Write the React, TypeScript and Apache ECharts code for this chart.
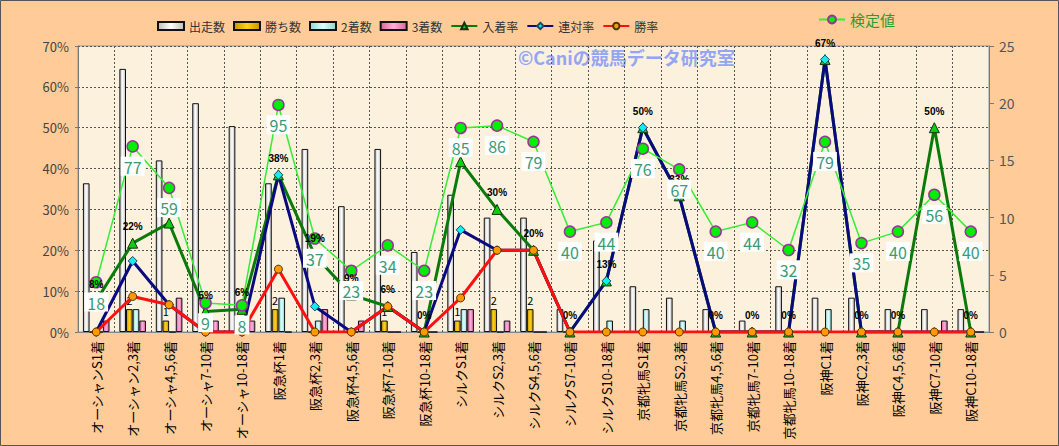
import React, { useEffect, useRef } from "react";
import * as echarts from "echarts";

const categories = [
  "オーシャンS1着", "オーシャン2,3着", "オーシャ4,5,6着", "オーシャ7-10着", "オーシャ10-18着",
  "阪急杯1着", "阪急杯2,3着", "阪急杯4,5,6着", "阪急杯7-10着", "阪急杯10-18着",
  "シルクS1着", "シルクS2,3着", "シルクS4,5,6着", "シルクS7-10着", "シルクS10-18着",
  "京都牝馬S1着", "京都牝馬S2,3着", "京都牝馬4,5,6着", "京都牝馬7-10着", "京都牝馬10-18着",
  "阪神C1着", "阪神C2,3着", "阪神C4,5,6着", "阪神C7-10着", "阪神C10-18着",
];
const starts = [13, 23, 15, 20, 18, 13, 16, 11, 16, 7, 12, 10, 10, 2, 8, 4, 3, 2, 1, 4, 3, 3, 2, 2, 2];
const wins = [0, 2, 1, 0, 0, 2, 0, 0, 1, 0, 1, 2, 2, 0, 0, 0, 0, 0, 0, 0, 0, 0, 0, 0, 0];
const seconds = [0, 2, 0, 0, 0, 3, 1, 0, 0, 0, 2, 0, 0, 0, 1, 2, 1, 0, 0, 0, 2, 0, 0, 0, 0];
const thirds = [1, 1, 3, 1, 1, 0, 2, 1, 0, 0, 2, 1, 0, 0, 0, 0, 0, 0, 0, 0, 0, 0, 0, 1, 0];
const placeRate = [7.69, 21.74, 26.67, 5.0, 5.56, 38.46, 18.75, 9.09, 6.25, 0, 41.67, 30.0, 20.0, 0, 12.5, 50.0, 33.33, 0, 0, 0, 66.67, 0, 0, 50.0, 0];
const rentaiRate = [0, 17.39, 6.67, 0, 0, 38.46, 6.25, 0, 6.25, 0, 25.0, 20.0, 20.0, 0, 12.5, 50.0, 33.33, 0, 0, 0, 66.67, 0, 0, 0, 0];
const winRate = [0, 8.7, 6.67, 0, 0, 15.38, 0, 0, 6.25, 0, 8.33, 20.0, 20.0, 0, 0, 0, 0, 0, 0, 0, 0, 0, 0, 0, 0];
const kentei = [18, 77, 59, 9, 8, 95, 37, 23, 34, 23, 85, 86, 79, 40, 44, 76, 67, 40, 44, 32, 79, 35, 40, 56, 40];
const leftTicks = { min: 0, max: 70, interval: 10 };
const rightTicks = { min: 0, max: 25, interval: 5 };

const grad = (edge: string, mid: string) =>
  new echarts.graphic.LinearGradient(0, 0, 1, 0, [
    { offset: 0, color: edge },
    { offset: 0.5, color: mid },
    { offset: 1, color: edge },
  ]);

export default function App() {
  const ref = useRef<HTMLDivElement>(null);
  useEffect(() => {
    if (!ref.current) return;
    const chart = echarts.init(ref.current, undefined, { renderer: "svg" });
    const barBase = {
      type: "bar",
      yAxisIndex: 1,
      barGap: "0%",
      barCategoryGap: "27%",
    };
    const option: any = {
      animation: false,
      backgroundColor: "#FFCC99",
      textStyle: { fontFamily: "'Noto Sans CJK JP', sans-serif" },
      grid: {
        left: 78,
        right: 70,
        top: 46,
        bottom: 114,
        show: true,
        backgroundColor: "#FCF1DC",
        borderColor: "#999",
        borderWidth: 1,
      },
      legend: [
        {
          left: 152,
          top: 15,
          itemWidth: 26,
          itemHeight: 8,
          itemGap: 8,
          textStyle: { fontSize: 12, color: "#333" },
          data: [
            { name: "出走数", icon: "rect" },
            { name: "勝ち数", icon: "rect" },
            { name: "2着数", icon: "rect" },
            { name: "3着数", icon: "rect" },
            { name: "入着率" },
            { name: "連対率" },
            { name: "勝率" },
          ],
        },
        {
          left: 813,
          top: 7,
          itemWidth: 26,
          itemHeight: 10,
          textStyle: { fontSize: 15, color: "#2E9A2E" },
          data: [{ name: "検定値" }],
        },
      ],
      xAxis: {
        type: "category",
        data: categories,
        axisLine: { show: true, lineStyle: { color: "#888" } },
        axisTick: { show: false },
        axisLabel: { rotate: 90, interval: 0, fontSize: 13, color: "#000", margin: 9 },
        splitLine: { show: true, lineStyle: { type: [2, 2], color: "#555", width: 1 } },
      },
      yAxis: [
        {
          type: "value",
          ...leftTicks,
          axisLine: { show: true, lineStyle: { color: "#777" } },
          axisTick: { show: true, length: 3 },
          axisLabel: { formatter: (v: number) => v + "%", fontSize: 13, color: "#444", margin: 9 },
          splitLine: { show: true, lineStyle: { type: [2, 2], color: "#555", width: 1 } },
        },
        {
          type: "value",
          position: "right",
          ...rightTicks,
          alignTicks: false,
          axisLine: { show: true, lineStyle: { color: "#777" } },
          axisTick: { show: true, length: 5 },
          axisLabel: { fontSize: 14, color: "#555", margin: 10 },
          splitLine: { show: false },
        },
        {
          type: "value",
          show: false,
          min: -3.6,
          max: 120.6,
          alignTicks: false,
          splitLine: { show: false },
        },
      ],
      graphic: [
        {
          type: "text",
          left: 518,
          top: 48,
          z: 0,
          style: {
            text: "©Caniの競馬データ研究室",
            fill: "#94A5F5",
            font: "bold 18px 'Noto Sans CJK JP', sans-serif",
          },
        },
        {
          type: "rect",
          shape: { x: 0.5, y: 0.5, width: 1058, height: 445 },
          style: { fill: "none", stroke: "#555", lineWidth: 1 },
          silent: true,
        },
      ],
      series: [
        {
          ...barBase,
          name: "出走数",
          data: starts,
          itemStyle: { color: grad("#bdbdbd", "#ffffff"), borderColor: "#111", borderWidth: 1 },
        },
        {
          ...barBase,
          name: "勝ち数",
          data: wins,
          itemStyle: { color: grad("#c99400", "#ffd21a"), borderColor: "#111", borderWidth: 1 },
          label: {
            show: true,
            position: "top",
            distance: 4,
            fontSize: 11,
            color: "#000",
            formatter: (p: any) => (p.value > 0 ? String(p.value) : ""),
          },
        },
        {
          ...barBase,
          name: "2着数",
          data: seconds,
          itemStyle: { color: grad("#8fd3d3", "#e0ffff"), borderColor: "#111", borderWidth: 1 },
        },
        {
          ...barBase,
          name: "3着数",
          data: thirds,
          itemStyle: { color: grad("#d9639f", "#ffb0dc"), borderColor: "#111", borderWidth: 1 },
        },
        {
          type: "line",
          name: "入着率",
          yAxisIndex: 0,
          data: placeRate,
          symbol: "triangle",
          symbolSize: 10,
          lineStyle: { color: "#0A7A0A", width: 3 },
          itemStyle: { color: "#11CC11", borderColor: "#113311", borderWidth: 1 },
          label: {
            show: true,
            position: "top",
            distance: 6,
            fontSize: 10,
            fontWeight: "bold",
            fontFamily: "'Liberation Sans', sans-serif",
            color: "#000",
            formatter: (p: any) => Math.round(p.value) + "%",
          },
        },
        {
          type: "line",
          name: "連対率",
          yAxisIndex: 0,
          data: rentaiRate,
          symbol: "diamond",
          symbolSize: 9,
          lineStyle: { color: "#0A0A80", width: 3 },
          itemStyle: { color: "#11EEEE", borderColor: "#224466", borderWidth: 1 },
        },
        {
          type: "line",
          name: "勝率",
          yAxisIndex: 0,
          data: winRate,
          symbol: "circle",
          symbolSize: 8,
          lineStyle: { color: "#FF1010", width: 3 },
          itemStyle: { color: "#FF9900", borderColor: "#553300", borderWidth: 1 },
        },
        {
          type: "line",
          name: "検定値",
          yAxisIndex: 2,
          data: kentei,
          symbol: "circle",
          symbolSize: 11,
          lineStyle: { color: "#33EE33", width: 1.5 },
          itemStyle: { color: "#00EE00", borderColor: "#993399", borderWidth: 1.5 },
          label: {
            show: true,
            position: "bottom",
            distance: 4,
            fontSize: 16,
            color: "#3A9A76",
            backgroundColor: "#ffffff",
            padding: [2, 3, 1, 3],
          },
        },
      ],
    };
    chart.setOption(option);
    return () => chart.dispose();
  }, []);
  return (
    <div
      ref={ref}
      style={{ position: "fixed", left: 0, top: 0, width: 1059, height: 446 }}
    />
  );
}
